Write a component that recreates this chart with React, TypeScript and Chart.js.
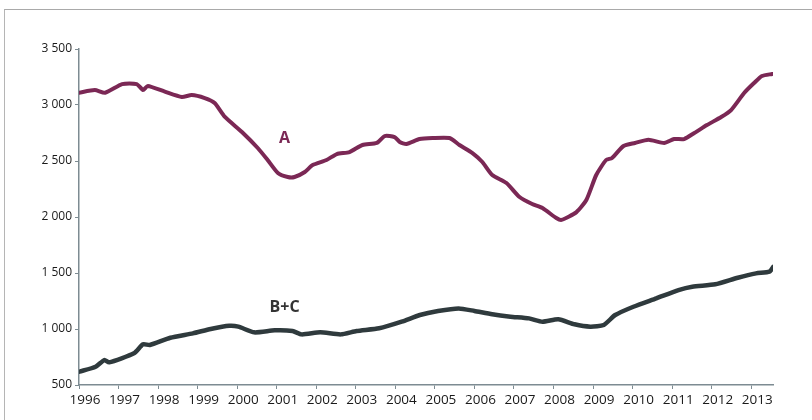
import React, { useEffect, useRef } from "react";
import { Chart, registerables } from "chart.js";

Chart.register(...registerables);

// Series A (time in decimal years, value)
const aYears = [
  1996.0, 1996.4, 1996.66, 1997.09, 1997.46, 1997.62, 1997.74, 1998.17, 1998.6, 1998.85,
  1999.18, 1999.43, 1999.69, 2000.12, 2000.52, 2000.77, 2001.03, 2001.28, 2001.45, 2001.71,
  2001.91, 2002.26, 2002.52, 2002.84, 2003.17, 2003.53, 2003.73, 2003.98, 2004.11, 2004.28,
  2004.61, 2004.94, 2005.37, 2005.62, 2005.95, 2006.2, 2006.45, 2006.81, 2007.14, 2007.46,
  2007.72, 2008.07, 2008.2, 2008.58, 2008.83, 2009.08, 2009.33, 2009.48, 2009.77, 2010.06,
  2010.4, 2010.8, 2011.05, 2011.3, 2011.56, 2011.88, 2012.24, 2012.49, 2012.82, 2013.07,
  2013.27, 2013.53,
];
const aValues = [
  3110, 3134, 3110, 3187, 3187, 3134, 3170, 3119, 3071, 3089,
  3062, 3018, 2893, 2759, 2616, 2509, 2393, 2357, 2357, 2402,
  2464, 2509, 2562, 2580, 2643, 2661, 2723, 2714, 2670, 2652,
  2696, 2705, 2705, 2643, 2571, 2491, 2375, 2303, 2178, 2116,
  2080, 1991, 1974, 2044, 2152, 2375, 2509, 2527, 2634, 2661,
  2690, 2661, 2696, 2696, 2750, 2821, 2893, 2955, 3107, 3196,
  3259, 3277,
];

// Series B+C
const bcYears = [
  1996.01, 1996.42, 1996.64, 1996.76, 1997.39, 1997.62, 1997.79, 1998.31, 1998.88, 1999.33,
  1999.8, 2000.03, 2000.43, 2000.95, 2001.4, 2001.63, 2002.1, 2002.62, 2003.02, 2003.59,
  2004.16, 2004.62, 2005.08, 2005.6, 2006.0, 2006.45, 2006.91, 2007.38, 2007.72, 2008.12,
  2008.53, 2008.93, 2009.27, 2009.56, 2010.02, 2010.6, 2011.16, 2011.51, 2012.09, 2012.66,
  2013.12, 2013.46, 2013.56,
];
const bcValues = [
  619, 663, 723, 702, 783, 863, 857, 922, 961, 1000,
  1029, 1021, 970, 988, 982, 952, 970, 952, 982, 1006,
  1065, 1125, 1161, 1184, 1161, 1131, 1110, 1095, 1065, 1087,
  1042, 1021, 1036, 1125, 1199, 1274, 1348, 1378, 1399, 1458,
  1497, 1512, 1556,
];

const seriesLabels = ["A", "B+C"];
const labelYears = [2001.2, 2001.2];
const labelValues = [2700, 1196];

const yMin = 500;
const yMax = 3500;
const yStep = 500;
const xMin = 1996;
const xMax = 2013.55;

const colorA = "#7b2855";
const colorBC = "#2f3a3d";
const axisColor = "#7d8b92";
const textColor = "#1a1a1a";
const fontFamily = "'Open Sans', 'Noto Sans', sans-serif";

function formatThousands(v: number): string {
  return String(v).replace(/\B(?=(\d{3})+(?!\d))/g, " ");
}

const seriesLabelPlugin = {
  id: "seriesLabels",
  afterDatasetsDraw(chart: any) {
    const { ctx, scales } = chart;
    const colors = [colorA, "#333333"];
    ctx.save();
    ctx.font = `bold 16px ${fontFamily}`;
    ctx.textAlign = "center";
    ctx.textBaseline = "middle";
    seriesLabels.forEach((t, i) => {
      ctx.fillStyle = colors[i];
      ctx.fillText(t, scales.x.getPixelForValue(labelYears[i]), scales.y.getPixelForValue(labelValues[i]));
    });
    ctx.restore();
  },
};

export default function App() {
  const canvasRef = useRef<HTMLCanvasElement | null>(null);

  useEffect(() => {
    if (!canvasRef.current) return;
    const chart = new Chart(canvasRef.current, {
      type: "line",
      data: {
        datasets: [
          {
            label: "A",
            data: aYears.map((x, i) => ({ x, y: aValues[i] })),
            borderColor: colorA,
            borderWidth: 4,
            pointRadius: 0,
            tension: 0.2,
            borderJoinStyle: "round",
            borderCapStyle: "round",
          },
          {
            label: "B+C",
            data: bcYears.map((x, i) => ({ x, y: bcValues[i] })),
            borderColor: colorBC,
            borderWidth: 4.5,
            pointRadius: 0,
            tension: 0.2,
            borderJoinStyle: "round",
            borderCapStyle: "round",
          },
        ],
      },
      options: {
        animation: false,
        responsive: false,
        maintainAspectRatio: false,
        layout: { padding: { left: 0, right: 39, top: 49, bottom: 0 } },
        plugins: { legend: { display: false }, tooltip: { enabled: false } },
        scales: {
          x: {
            type: "linear",
            min: xMin,
            max: xMax,
            afterFit: (s: any) => {
              s.height = 35;
            },
            afterBuildTicks: (s: any) => {
              const t = [];
              for (let y = 1996; y <= 2013; y++) t.push({ value: y });
              s.ticks = t;
            },
            ticks: {
              callback: (v: any) => String(v),
              font: { family: fontFamily, size: 13.5 },
              color: textColor,
              padding: 3,
              labelOffset: 6,
              maxRotation: 0,
              autoSkip: false,
            },
            grid: { drawOnChartArea: false, drawTicks: true, tickLength: 4, color: axisColor },
            border: { display: true, color: axisColor, width: 1.5 },
          },
          y: {
            min: yMin,
            max: yMax,
            afterFit: (s: any) => {
              s.width = 79;
            },
            ticks: {
              stepSize: yStep,
              callback: (v: any) => formatThousands(Number(v)),
              font: { family: fontFamily, size: 12 },
              color: textColor,
              padding: 3,
            },
            grid: { drawOnChartArea: false, drawTicks: true, tickLength: 4, color: axisColor },
            border: { display: true, color: axisColor, width: 1.5 },
          },
        },
      },
      plugins: [seriesLabelPlugin],
    } as any);
    return () => chart.destroy();
  }, []);

  return (
    <div style={{ position: "absolute", left: 0, top: 0, width: 812, height: 420, background: "#fff", overflow: "hidden" }}>
      <div
        style={{
          position: "absolute",
          left: 4,
          top: 9,
          width: 812,
          height: 420,
          borderTop: "1px solid #a9a9a9",
          borderLeft: "1px solid #b5b5b5",
        }}
      />
      <canvas ref={canvasRef} width={812} height={420} style={{ position: "absolute", left: 0, top: 0, width: 812, height: 420 }} />
    </div>
  );
}
